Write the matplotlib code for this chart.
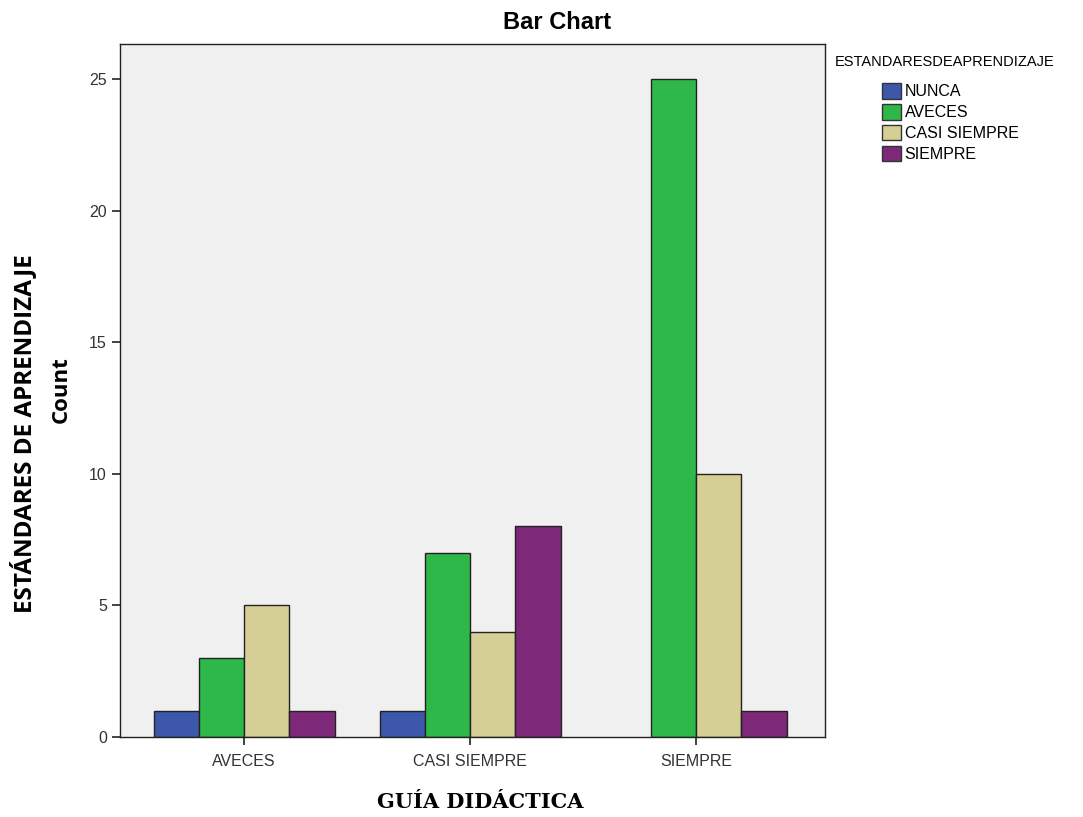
import numpy as np
import matplotlib
matplotlib.use("Agg")
import matplotlib.pyplot as plt
from matplotlib.patches import Patch

grupos = ["AVECES", "CASI SIEMPRE", "SIEMPRE"]
series = ["NUNCA", "AVECES", "CASI SIEMPRE", "SIEMPRE"]
nunca = [1, 1, 0]
aveces = [3, 7, 25]
casi_siempre = [5, 4, 10]
siempre = [1, 8, 1]
valores = [nunca, aveces, casi_siempre, siempre]
colores = ["#3D58AB", "#2EB84A", "#D5CF96", "#7D2878"]

fig = plt.figure(figsize=(10.83, 8.17), dpi=100)
ax = fig.add_axes([0.1108, 0.0979, 0.651, 0.8482])
ax.set_facecolor("#F0F0F0")

x = np.arange(len(grupos))
ancho = 0.2
for i, (vals, col) in enumerate(zip(valores, colores)):
    pos = x + (i - 1.5) * ancho
    v = np.array(vals, dtype=float)
    m = v > 0
    ax.bar(pos[m], v[m], width=ancho, color=col, edgecolor="#222222", linewidth=1.0, zorder=2)

ax.set_xlim(-0.55, 2.57)
ax.set_ylim(0, 26.33)
ax.set_xticks(x)
ax.set_xticklabels(grupos, fontsize=11.5, family="Liberation Sans")
ax.set_yticks([0, 5, 10, 15, 20, 25])
ax.set_yticklabels(["0", "5", "10", "15", "20", "25"], fontsize=11.5, family="Liberation Sans")
ax.tick_params(axis="both", length=6, width=1.2, color="#222222", labelcolor="#333333")
ax.tick_params(axis="x", pad=6)
for s in ax.spines.values():
    s.set_color("#222222")
    s.set_linewidth(1.0)

fig.text(0.514, 0.972, "Bar Chart", ha="center", va="center", fontsize=17, fontweight="bold",
         family="Liberation Sans")
fig.text(0.057, 0.523, "Count", rotation=90, ha="center", va="center", fontsize=16,
         fontweight="bold", family="Open Sans")
fig.text(0.022, 0.469, "ESTÁNDARES DE APRENDIZAJE", rotation=90, ha="center", va="center",
         fontsize=17.5, fontweight="bold", family="Open Sans")
fig.text(0.443, 0.018, "GUÍA DIDÁCTICA", ha="center", va="center", fontsize=15,
         fontweight="bold", family="DejaVu Serif")

fig.text(0.771, 0.924, "ESTANDARESDEAPRENDIZAJE", ha="left", va="center", fontsize=10.5,
         family="Liberation Sans")
handles = [Patch(facecolor=c, edgecolor="#333333", linewidth=1.0) for c in colores]
fig.legend(handles, series, loc="upper left", bbox_to_anchor=(0.814, 0.898), frameon=False,
           prop={"family": "Liberation Sans", "size": 11.5}, handlelength=1.2, handleheight=1.1,
           handletextpad=0.25, labelspacing=0.3, borderaxespad=0, borderpad=0)

fig.savefig("out.png", dpi=100)
